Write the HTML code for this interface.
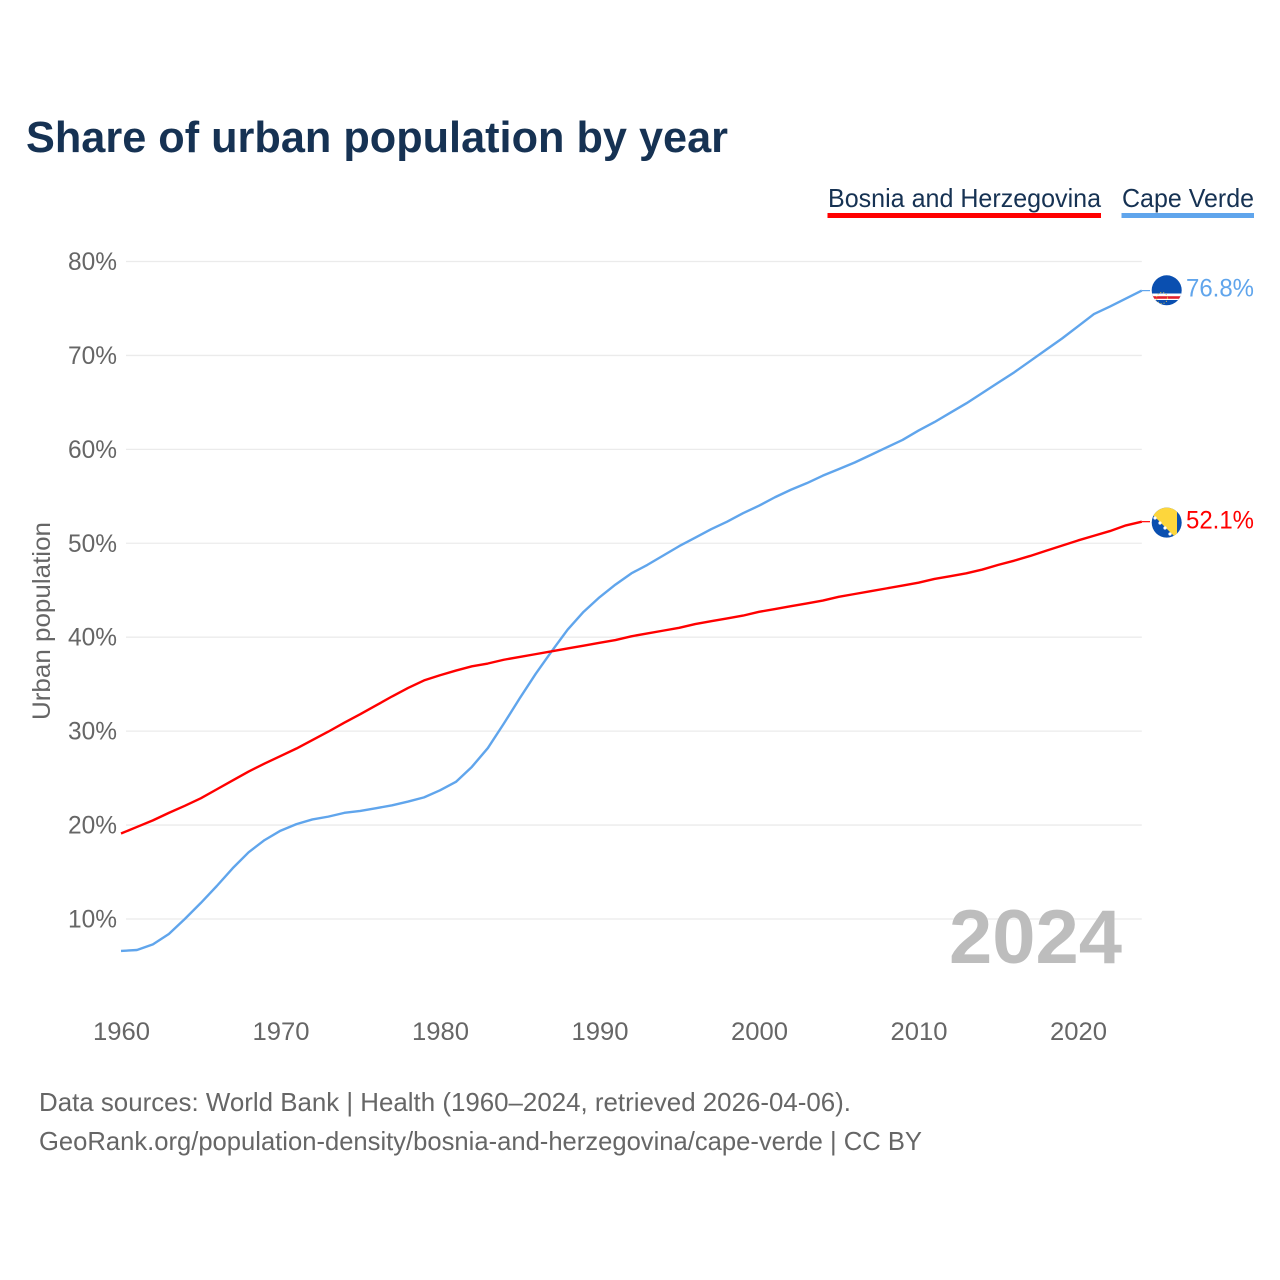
<!DOCTYPE html>
<html lang="en">
<head>
<meta charset="utf-8">
<title>Share of urban population by year</title>
<style>
html,body{margin:0;padding:0;background:#fff;width:1280px;height:1280px;overflow:hidden}
svg{display:block}
text{font-family:"Liberation Sans",sans-serif}
</style>
</head>
<body>
<svg id="chart" width="1280" height="1280" viewBox="0 0 1280 1280" xmlns="http://www.w3.org/2000/svg">
  <defs>
    <clipPath id="clip-cv"><circle cx="1166.7" cy="290.3" r="15"/></clipPath>
    <clipPath id="clip-ba"><circle cx="1166.7" cy="522.6" r="15"/></clipPath>
  </defs>
  <text x="26" y="152" font-size="44" font-weight="700" fill="#163253" textLength="702" lengthAdjust="spacingAndGlyphs">Share of urban population by year</text>

  <g>
    <text x="828" y="207" font-size="26" fill="#163253" textLength="273" lengthAdjust="spacingAndGlyphs">Bosnia and Herzegovina</text>
    <rect x="827.5" y="213" width="273.5" height="5" fill="#ff0000"/>
  </g>
  <g>
    <text x="1122" y="207" font-size="26" fill="#163253" textLength="132" lengthAdjust="spacingAndGlyphs">Cape Verde</text>
    <rect x="1121.5" y="213" width="132.5" height="5" fill="#60a5ec"/>
  </g>

  <g id="grid"></g>
  <g id="y-ticks"></g>
  <g id="x-ticks"></g>
  <text transform="translate(50 621) rotate(-90)" text-anchor="middle" font-size="25" fill="#666666" textLength="198" lengthAdjust="spacingAndGlyphs">Urban population</text>

  <text x="1122" y="963" text-anchor="end" font-size="76" font-weight="700" fill="#bdbdbd" textLength="173" lengthAdjust="spacingAndGlyphs">2024</text>

  <g id="series"></g>

  <g clip-path="url(#clip-cv)">
    <rect x="1150" y="273" width="34" height="34" fill="#0a4fb0"/>
    <rect x="1150" y="293.5" width="34" height="6.5" fill="#ffffff"/>
    <rect x="1150" y="296.2" width="34" height="2.6" fill="#e0202c"/>
    <circle cx="1162" cy="298" r="5.5" fill="none" stroke="#e8c84a" stroke-width="1" stroke-dasharray="1 2"/>
  </g>
  <g clip-path="url(#clip-ba)">
    <rect x="1150" y="505" width="34" height="36" fill="#0a4fb0"/>
    <polygon points="1145,507 1177,507 1177,539" fill="#fdd63c"/>
    <g fill="#ffffff">
      <circle cx="1155" cy="518" r="1.6"/>
      <circle cx="1160" cy="523" r="1.6"/>
      <circle cx="1165" cy="528" r="1.6"/>
      <circle cx="1170" cy="534" r="1.6"/>
    </g>
  </g>

  <text x="1254" y="296.5" text-anchor="end" font-size="25" fill="#60a5ec" textLength="68" lengthAdjust="spacingAndGlyphs">76.8%</text>
  <text x="1254" y="528.5" text-anchor="end" font-size="25" fill="#ff0000" textLength="68" lengthAdjust="spacingAndGlyphs">52.1%</text>

  <text x="39" y="1111" font-size="26" fill="#666666" textLength="812" lengthAdjust="spacingAndGlyphs">Data sources: World Bank | Health (1960–2024, retrieved 2026-04-06).</text>
  <a><text x="39" y="1150" font-size="26" fill="#666666" textLength="883" lengthAdjust="spacingAndGlyphs">GeoRank.org/population-density/bosnia-and-herzegovina/cape-verde | CC BY</text></a>
</svg>
<script>
const years = [];
for (let y = 1960; y <= 2024; y++) years.push(y);
const capeVerde = [6.6,6.7,7.3,8.4,10,11.7,13.5,15.4,17.1,18.4,19.4,20.1,20.6,20.9,21.3,21.5,21.8,22.1,22.5,22.95,23.7,24.6,26.2,28.2,30.8,33.5,36.1,38.5,40.8,42.7,44.25,45.6,46.8,47.7,48.7,49.7,50.6,51.5,52.3,53.2,54,54.9,55.7,56.4,57.2,57.9,58.6,59.4,60.2,61,62,62.9,63.9,64.9,66.0,67.1,68.2,69.4,70.6,71.8,73.1,74.4,75.2,76.05,76.9];
const bosnia = [19.1,19.8,20.5,21.3,22.05,22.85,23.8,24.75,25.7,26.55,27.35,28.15,29.05,29.95,30.9,31.8,32.75,33.7,34.6,35.4,35.95,36.45,36.9,37.2,37.6,37.9,38.2,38.5,38.8,39.1,39.4,39.7,40.1,40.4,40.7,41,41.4,41.7,42,42.3,42.7,43,43.3,43.6,43.9,44.3,44.6,44.9,45.2,45.5,45.8,46.2,46.5,46.8,47.2,47.7,48.15,48.65,49.2,49.75,50.3,50.8,51.3,51.9,52.3];
const yTickValues = [10,20,30,40,50,60,70,80];
const xTickValues = [1960,1970,1980,1990,2000,2010,2020];

const NS = 'http://www.w3.org/2000/svg';
const xScale = yr => 121 + (yr - 1960) * 15.95;
const yScale = v => 919 - (v - 10) * 9.393;

function make(tag, attrs, parent) {
  const el = document.createElementNS(NS, tag);
  for (const k in attrs) el.setAttribute(k, attrs[k]);
  parent.appendChild(el);
  return el;
}

const grid = document.getElementById('grid');
const yTicks = document.getElementById('y-ticks');
yTickValues.forEach(v => {
  const line = make('line', {x1: 126, x2: xScale(2024), y1: yScale(v), y2: yScale(v), stroke: '#ebebeb', 'stroke-width': 1.3}, grid);
  
  
  const t = make('text', {x: 117, y: yScale(v) + 8.5, 'text-anchor': 'end', 'font-size': 25, fill: '#666666', textLength: 49, lengthAdjust: 'spacingAndGlyphs'}, yTicks);
  t.textContent = v + '%';
  
  
});

const xTicks = document.getElementById('x-ticks');
xTickValues.forEach(yr => {
  const t = make('text', {x: xScale(yr) + 0.5, y: 1040, 'text-anchor': 'middle', 'font-size': 25, fill: '#666666', textLength: 57, lengthAdjust: 'spacingAndGlyphs'}, xTicks);
  t.textContent = yr;
  
  
});

const seriesGroup = document.getElementById('series');
function drawSeries(values, color, name) {
  const pts = values.map((v, i) => xScale(years[i]).toFixed(2) + ',' + yScale(v).toFixed(2));
  const line = make('polyline', {points: pts.join(' '), fill: 'none', stroke: color, 'stroke-width': 2.4, 'stroke-linejoin': 'round'}, seriesGroup);
  
  
  const lastY = yScale(values[values.length - 1]);
  const connector = make('line', {x1: xScale(2024), x2: 1150, y1: lastY, y2: lastY, stroke: color, 'stroke-width': 1.2}, seriesGroup);
  
  
}
drawSeries(capeVerde, '#60a5ec', 'line-cape-verde');
drawSeries(bosnia, '#ff0000', 'line-bosnia');
</script>
</body>
</html>
